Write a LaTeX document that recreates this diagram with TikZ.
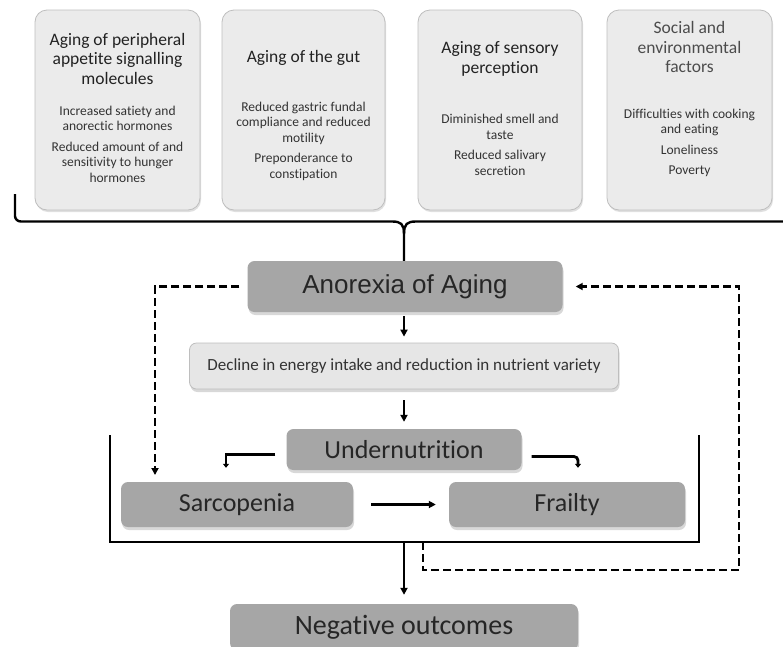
\documentclass[tikz,border=0pt]{standalone}
\usepackage{fontspec}
\setmainfont{Carlito}[Ligatures=NoCommon]
\newfontfamily\arialfont{Liberation Sans}
\usetikzlibrary{shadows,arrows.meta,calc}
\definecolor{blockgray}{HTML}{A6A6A6}
\definecolor{factorfill}{HTML}{EBEBEB}
\definecolor{declinefill}{HTML}{E6E6E6}
\definecolor{edgegray}{HTML}{BEBEBE}
\definecolor{headcol}{HTML}{222222}
\definecolor{bodycol}{HTML}{333333}
\tikzset{
    factor/.style={draw=edgegray, line width=0.8pt, fill=factorfill, rounded corners=12pt,
        minimum height=200pt, drop shadow={opacity=0.25, shadow xshift=1pt, shadow yshift=-2pt}},
    heading/.style={align=center, text=headcol, font=\fontsize{17.5}{19.5}\selectfont},
    detail/.style={align=center, text=bodycol, font=\fontsize{13.5}{15.5}\selectfont},
    block/.style={fill=blockgray, rounded corners=7pt, text=black!85,
        drop shadow={opacity=0.3, shadow xshift=1pt, shadow yshift=-3pt}},
    link/.style={-{Triangle[length=7pt,width=7pt]}, line width=2.4pt},
    elbow/.style={-{Triangle[length=4pt,width=6pt]}, line width=2.8pt},
    feedback/.style={link, dash pattern=on 8pt off 4pt},
    bracket/.style={line width=2.4pt}
}
\begin{document}
\begin{tikzpicture}[x=1pt, y=-1pt]
    \clip (0,0) rectangle (783,646);
    \fill[white] (0,0) rectangle (783,646);

    \node[factor, minimum width=165pt] (f1) at (117.5,110) {};
    \node[factor, minimum width=163pt] (f2) at (303.5,110) {};
    \node[factor, minimum width=164pt] (f3) at (500,110) {};
    \node[factor, minimum width=165pt] (f4) at (689.5,110) {};

    \node[heading] (h1) at (117.5,58.5) {Aging of peripheral\\appetite signalling\\molecules};
    \node[detail] (d1) at (117.5,144) {Increased satiety and\\anorectic hormones\\[5pt]Reduced amount of and\\sensitivity to hunger\\hormones};
    \node[heading] (h2) at (303.5,58) {Aging of the gut};
    \node[detail] (d2) at (303.5,141) {Reduced gastric fundal\\compliance and reduced\\motility\\[5pt]Preponderance to\\constipation};
    \node[heading] (h3) at (500,59) {Aging of sensory\\perception};
    \node[detail] (d3) at (500,145) {Diminished smell and\\taste\\[5pt]Reduced salivary\\secretion};
    \node[heading, text=black!70] (h4) at (689.5,47) {Social and\\environmental\\factors};
    \node[detail] (d4) at (689.5,143) {Difficulties with cooking\\and eating\\[5pt]Loneliness\\[5pt]Poverty};

    \node[block, minimum width=315pt, minimum height=51pt, font=\arialfont\fontsize{26}{30}\selectfont] (anorexia) at (405,286.5) {Anorexia of Aging};
    \node[draw=edgegray, line width=0.8pt, fill=declinefill, rounded corners=7pt, minimum width=429pt, minimum height=46pt,
        font=\fontsize{17}{19}\selectfont, text=bodycol, drop shadow={opacity=0.3, shadow xshift=1pt, shadow yshift=-3pt}] (decline) at (404,366) {Decline in energy intake and reduction in nutrient variety};
    \node[block, minimum width=235pt, minimum height=41pt, font=\fontsize{26}{30}\selectfont] (under) at (404,449.5) {Undernutrition};
    \node[block, minimum width=232pt, minimum height=45pt, font=\fontsize{26}{30}\selectfont] (sarc) at (237,504.5) {Sarcopenia};
    \node[block, minimum width=236pt, minimum height=45pt, font=\fontsize{26}{30}\selectfont] (frail) at (567,504.5) {Frailty};
    \node[block, minimum width=348pt, minimum height=46pt, font=\fontsize{28}{32}\selectfont] (negative) at (404,627) {Negative outcomes};

    \draw[bracket] (15,194) -- (15,216) to[out=-90,in=180] (21,221.5) -- (392,221.5)
        .. controls (401,221.5) and (404,224) .. (404,234) -- (anorexia.north -| 404,0);
    \draw[bracket] (783,221.5) -- (416,221.5) .. controls (407,221.5) and (404,224) .. (404,234);

    \draw[bracket] (110,435) |- (699,542) -- (699,435);
    \coordinate (brmid) at (404,542);
    \coordinate (sarcin) at (155,482);
    \coordinate (fbstart) at (423,542);
    \coordinate (fbcorner) at (739,570);

    \draw[link, shorten <=4pt, shorten >=6pt] (anorexia.south -| 404,0) -- (decline.north);
    \draw[link, shorten <=11pt, shorten >=7pt] (decline.south) -- (under.north);
    \draw[elbow] ($(under.west)+(-11,5)$) -| ($(sarc.north)+(-11,-14)$);
    \draw[elbow, rounded corners=4pt] ($(under.east)+(10,7)$) -| ($(frail.north)+(11,-14)$);
    \draw[link, shorten <=18pt, shorten >=13pt] (sarc.east) -- (frail.west);
    \draw[link, shorten >=9pt] (brmid) -- (negative.north);
    \draw[feedback, shorten <=8pt, shorten >=7pt] (anorexia.west) -| (sarcin);
    \draw[feedback, shorten >=13pt] (fbstart) |- (fbcorner) |- (anorexia.east);
\end{tikzpicture}
\end{document}
